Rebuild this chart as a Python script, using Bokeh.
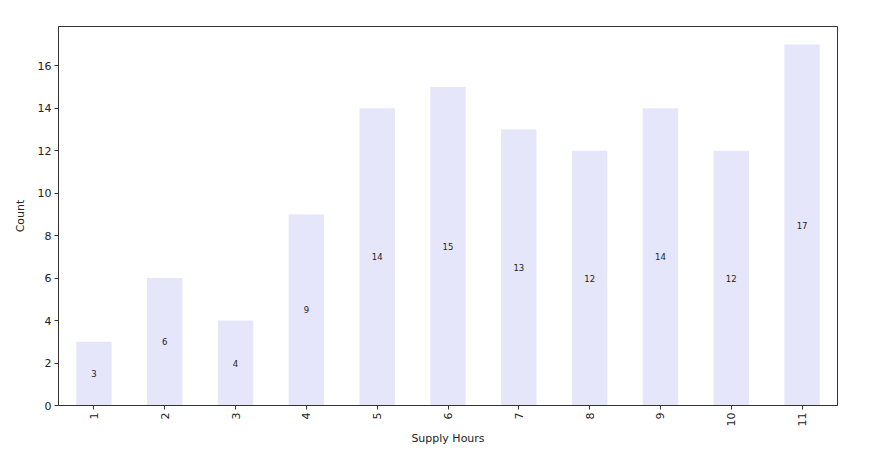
import math
from bokeh.plotting import figure
from bokeh.models import ColumnDataSource, FactorRange, Range1d, FixedTicker
from bokeh.core.properties import value
from bokeh.embed import file_html
from bokeh.resources import INLINE

hours = ["1", "2", "3", "4", "5", "6", "7", "8", "9", "10", "11"]
counts = [3, 6, 4, 9, 14, 15, 13, 12, 14, 12, 17]
y_ticks = [0, 2, 4, 6, 8, 10, 12, 14, 16]

src = ColumnDataSource(dict(
    x=hours,
    top=counts,
    mid=[c / 2 for c in counts],
    lbl=[str(c) for c in counts],
))

p = figure(
    x_range=FactorRange(factors=hours, range_padding=0),
    y_range=Range1d(0, max(counts) * 1.05),
    width=854, height=448,
    output_backend="svg", toolbar_location=None,
    min_border_left=58, min_border_top=26, min_border_right=17, min_border_bottom=38,
)

p.vbar(x="x", top="top", width=0.5, source=src, fill_color="#E6E6FA", line_color=None)
p.text(x="x", y="mid", text="lbl", source=src, text_align="center", text_baseline="middle",
       text_font=value("DejaVu Sans"), text_font_size="8.5px", text_color="#222222")

p.xgrid.visible = False
p.ygrid.visible = False
p.outline_line_color = "#333333"
p.outline_line_width = 1

for ax in (p.xaxis[0], p.yaxis[0]):
    ax.axis_line_color = "#333333"
    ax.major_tick_line_color = "#333333"
    ax.major_tick_in = 0
    ax.major_tick_out = 4
    ax.minor_tick_line_color = None
    ax.major_label_text_font = "DejaVu Sans"
    ax.major_label_text_font_size = "11px"
    ax.major_label_text_color = "#222222"
    ax.axis_label_text_font = "DejaVu Sans"
    ax.axis_label_text_font_size = "11px"
    ax.axis_label_text_font_style = "normal"
    ax.axis_label_text_color = "#222222"

p.yaxis[0].ticker = FixedTicker(ticks=y_ticks)
p.yaxis[0].major_label_standoff = 3
p.yaxis[0].axis_label = "Count"
p.yaxis[0].axis_label_standoff = 8
p.xaxis[0].axis_label = "Supply Hours"
p.xaxis[0].major_label_orientation = math.pi / 2
p.xaxis[0].major_label_standoff = 3
p.xaxis[0].axis_label_standoff = 3

open("out.html", "w").write(file_html(p, INLINE))
